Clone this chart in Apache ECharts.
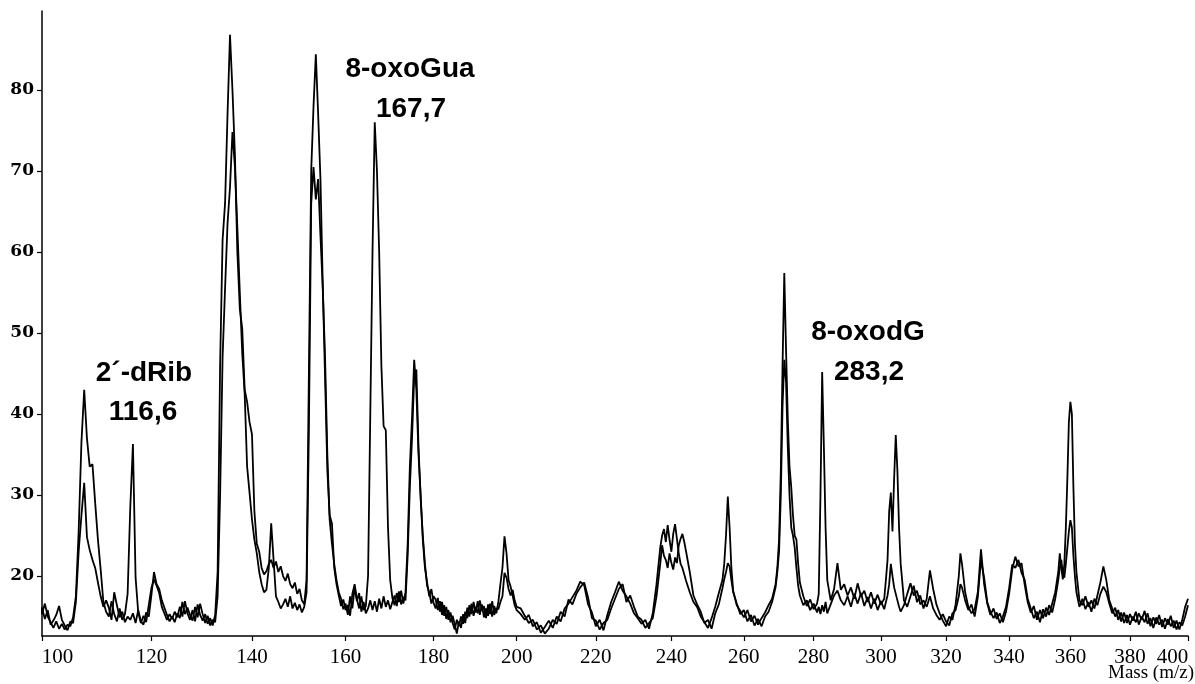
<!DOCTYPE html>
<html>
<head>
<meta charset="utf-8">
<title>Mass spectrum</title>
<script src="https://cdn.jsdelivr.net/npm/echarts@6/dist/echarts.min.js"></script>
<style>
  html, body { margin: 0; padding: 0; background: #fff; }
  #chart { width: 1195px; height: 684px; }
</style>
</head>
<body>
<div id="chart"></div>
<script>
// m/z sampling points, shared by both scans
const mass = [
  99.5, 100, 100.5, 101, 101.5, 102, 102.5, 103, 103.5, 104,
  104.5, 105, 105.5, 106, 106.5, 107, 107.5, 108, 108.5, 109,
  109.5, 110, 110.5, 111, 111.5, 112, 112.5, 113, 113.5, 114,
  114.5, 115, 115.5, 116, 116.5, 117, 117.5, 118, 118.5, 119,
  119.5, 120, 120.5, 121, 121.5, 122, 122.5, 123, 123.5, 124,
  124.5, 125, 125.5, 126, 126.5, 127, 127.5, 128, 128.5, 129,
  129.5, 130, 130.5, 131, 131.5, 132, 132.5, 133, 133.5, 134,
  134.5, 135, 135.5, 136, 136.5, 137, 137.5, 138, 138.5, 139,
  139.5, 140, 140.5, 141, 141.5, 142, 142.5, 143, 143.5, 144,
  144.5, 145, 145.5, 146, 146.5, 147, 147.5, 148, 148.5, 149,
  149.5, 150, 150.5, 151, 151.5, 152, 152.5, 153, 153.5, 154,
  154.5, 155, 155.5, 156, 156.5, 157, 157.5, 158, 158.5, 159,
  159.5, 160, 160.5, 161, 161.5, 162, 162.5, 163, 163.5, 164,
  164.5, 165, 165.5, 166, 166.5, 167, 167.5, 168, 168.5, 169,
  169.5, 170, 170.5, 171, 171.5, 172, 172.5, 173, 173.5, 174,
  174.5, 175, 175.5, 176, 176.5, 177, 177.5, 178, 178.5, 179,
  179.5, 180, 180.5, 181, 181.5, 182, 182.5, 183, 183.5, 184,
  184.5, 185, 185.5, 186, 186.5, 187, 187.5, 188, 188.5, 189,
  189.5, 190, 190.5, 191, 191.5, 192, 192.5, 193, 193.5, 194,
  194.5, 195, 195.5, 196, 196.5, 197, 197.5, 198, 198.5, 199,
  199.5, 200,
  201, 202, 203, 204, 205, 206, 207, 208, 209, 210,
  211, 212, 213, 214, 215, 216, 217, 218, 219, 220,
  221, 222, 223, 224, 225, 226, 227, 228, 229, 230,
  231, 232, 233, 234, 235, 236, 237, 237.5, 238, 238.5,
  239, 239.5, 240, 240.5, 241, 241.5, 242, 242.5, 243, 243.5,
  244, 245, 246, 247, 248, 249, 250, 251, 252, 253,
  254, 254.5, 255, 255.5, 256, 256.5, 257, 258, 259, 260,
  261, 262, 263, 264, 265, 266, 267, 268, 269, 269.5,
  270, 270.5, 271, 271.5, 272, 272.5, 273, 273.5, 274, 274.5,
  275, 275.5, 276, 277, 278, 279, 280, 281, 281.5, 282,
  282.5, 283, 283.5, 284, 285, 286, 287, 288, 289, 290,
  291, 292, 293, 294, 295, 296, 297, 298, 299, 300,
  301, 301.5, 302, 302.5, 303, 303.5, 304, 304.5, 305, 305.5,
  306, 307, 308, 309, 310, 311, 312, 313, 314, 315,
  316, 317, 318, 319, 320, 321, 322, 323, 324, 324.5,
  325, 326, 327, 328, 329, 330, 331, 332, 333, 334,
  335, 336, 337, 338, 339, 340, 341, 342, 343, 344,
  345, 346, 347, 348, 349, 350, 351, 352, 353, 354,
  355, 356, 356.5, 357, 357.5, 358, 358.5, 359, 359.5, 360,
  360.5, 361, 361.5, 362, 363, 364, 365, 366, 367, 368,
  369, 370, 371, 372, 373, 374, 375, 376, 377, 378,
  379, 380, 381, 382, 383, 384, 385, 386, 387, 388,
  389, 390, 391, 392, 393, 394, 395, 396, 397, 398,
  399, 400
];

// first scan (the one with the 116, 167 and 283 peaks)
const scanA = [
  16.2, 15.3, 16.6, 15.0, 14.3, 13.6, 14.4, 13.5, 14.1, 13.4,
  14.0, 13.8, 14.9, 17.5, 25.5, 36.5, 43.0, 37.0, 33.5, 33.8,
  29.0, 24.5, 20.8, 16.8, 15.6, 15.0, 16.9, 15.3, 14.4, 16.0,
  14.6, 15.3, 17.8, 28.5, 36.3, 19.8, 15.5, 14.2, 15.1, 14.3,
  16.4, 18.5, 19.6, 18.8, 17.9, 16.2, 15.4, 14.6, 15.3, 14.7,
  15.6, 14.9, 16.2, 15.0, 16.9, 15.4, 14.6, 15.8, 14.4, 16.5,
  15.2, 14.5, 15.3, 14.1, 14.8, 13.9, 15.2, 20.5, 46.0, 61.5,
  66.0, 77.0, 86.8, 80.0, 72.0, 60.0, 53.0, 50.5, 43.0, 41.5,
  39.0, 37.5, 28.0, 24.0, 23.0, 21.0, 20.2, 20.6, 21.5, 22.0,
  21.0, 21.8, 20.5, 21.2, 20.0, 19.4, 20.3, 19.0, 18.5, 19.2,
  17.8, 18.4, 17.0, 16.5, 19.5, 45.0, 70.0, 78.0, 84.4, 77.0,
  69.0, 56.0, 44.5, 33.0, 27.5, 26.5, 21.0, 19.0, 17.6, 16.3,
  17.1, 15.8, 16.4, 15.1, 17.8, 19.0, 17.2, 16.0, 17.5, 15.8,
  16.3, 20.0, 40.0, 60.0, 76.0, 70.0, 60.0, 46.0, 38.5, 38.0,
  26.0, 19.5, 17.3, 16.4, 17.9, 16.8, 18.2, 16.6, 18.0, 24.0,
  33.5, 39.5, 46.7, 43.0, 35.0, 30.0, 24.5, 21.0, 19.2, 17.5,
  18.4, 16.7, 16.0, 17.3, 15.6, 16.8, 15.1, 16.2, 14.6, 15.5,
  14.2, 13.4, 14.6, 13.8, 15.0, 14.1, 15.6, 14.8, 16.4, 15.3,
  16.8, 15.5, 16.9, 15.2, 16.5, 14.9, 16.0, 15.1, 16.6, 15.0,
  16.3, 15.4, 16.8, 19.0, 21.0, 24.9, 22.8, 19.5, 18.7, 17.6,
  16.4, 15.8,
  15.3, 14.6, 15.2, 13.8, 14.3, 13.0, 13.7, 14.5, 13.6, 15.0,
  14.4, 16.0, 16.6, 17.4, 18.2, 19.3, 18.9, 16.5, 15.5, 13.8,
  14.6, 13.3, 15.2, 16.8, 18.0, 19.3, 18.2, 17.5, 16.6, 15.4,
  14.8, 14.1, 14.6, 13.5, 15.4, 19.0, 23.5, 25.0, 25.8, 24.2,
  26.3, 24.5, 23.0, 25.2, 26.4, 24.6, 22.8, 21.5, 21.0, 20.2,
  19.4, 18.0, 16.8, 16.2, 15.0, 14.3, 13.6, 14.8, 16.2, 17.9,
  19.5, 21.5, 25.0, 29.8, 26.0, 21.0, 18.2, 16.4, 15.7, 14.9,
  15.8, 14.4, 15.1, 14.0, 14.8, 15.5, 16.4, 17.2, 19.0, 21.0,
  24.5, 33.0, 46.0, 57.4, 48.0, 39.5, 33.5, 31.0, 27.5, 25.0,
  24.5, 21.5, 19.2, 17.5, 16.3, 17.1, 15.9, 16.6, 17.8, 30.0,
  45.2, 36.0, 26.0, 19.5, 17.0, 18.4, 21.6, 18.3, 19.0, 17.6,
  18.6, 17.2, 19.1, 17.5, 18.2, 16.8, 18.0, 16.6, 17.7, 16.5,
  17.2, 19.5, 22.0, 28.0, 30.3, 25.5, 32.0, 37.4, 33.0, 26.0,
  21.5, 17.0, 16.2, 17.5, 18.8, 16.8, 17.6, 16.0, 17.2, 20.7,
  18.4, 16.5, 15.4, 14.5, 13.8, 15.0, 14.6, 16.5, 20.0, 22.8,
  21.5, 18.0, 16.2, 15.4, 15.9, 18.0, 23.3, 19.0, 16.6, 15.2,
  16.0, 14.7, 15.4, 14.3, 15.6, 17.8, 20.8, 22.4, 21.2, 21.6,
  19.0, 16.8, 15.5, 16.3, 14.6, 15.8, 14.8, 16.1, 15.2, 16.6,
  18.0, 20.5, 22.8, 21.0, 19.6, 21.5, 26.0, 32.0, 39.0, 41.5,
  40.0, 31.0, 24.0, 20.5, 17.0, 16.4, 17.5, 16.2, 17.0, 16.0,
  17.6, 19.2, 21.2, 19.5, 17.0, 16.0, 15.0, 15.8, 14.4, 15.5,
  14.2, 15.3, 14.5, 15.6, 14.0, 15.0, 14.3, 15.4, 13.8, 14.9,
  14.1, 15.2, 13.7, 14.8, 14.0, 15.1, 13.6, 14.5, 13.4, 14.6,
  16.2, 17.2
];

// second scan
const scanB = [
  15.0, 16.1, 14.7, 15.8, 14.0, 14.5, 15.2, 16.3, 14.6, 13.9,
  13.3, 14.4, 14.2, 16.8, 23.0, 27.5, 31.5, 24.8, 23.2, 22.0,
  21.0, 19.2, 17.5, 16.2, 17.0, 16.1, 14.6, 18.0, 16.4, 14.9,
  15.6, 14.3, 15.0, 14.6, 15.4, 14.2, 15.8, 14.4, 14.0, 15.5,
  15.0, 17.6, 20.5, 19.0, 18.4, 17.0, 16.1, 15.2, 14.4, 15.0,
  14.3, 15.4, 14.8, 16.8, 15.3, 16.1, 15.2, 14.5, 16.2, 14.9,
  16.6, 15.3, 14.2, 15.1, 13.9, 14.6, 14.3, 17.5, 30.0, 47.0,
  55.5, 63.5, 68.0, 74.8, 70.5, 63.0, 55.0, 47.5, 42.5, 33.5,
  30.3, 27.0, 24.5, 22.8, 20.5, 19.0, 18.0, 18.3, 21.0, 26.5,
  22.0, 17.5, 16.8, 16.0, 16.5, 17.2, 16.2, 17.5, 16.0, 16.7,
  15.8, 16.5, 15.5, 16.2, 18.0, 38.0, 66.0, 70.5, 66.5, 69.0,
  62.0, 55.5, 47.0, 35.0, 27.0, 24.0, 21.5, 19.5, 18.0, 17.2,
  15.9, 16.6, 15.2, 17.5, 16.0, 18.6, 16.9, 17.9, 15.6, 16.8,
  15.4, 16.0, 17.0, 15.8, 16.9, 15.6, 17.2, 16.0, 17.5, 16.2,
  17.0, 15.9, 16.8, 17.6, 16.3, 18.1, 16.5, 17.4, 17.0, 22.5,
  31.0, 37.0, 44.5, 45.5, 36.0, 29.5, 25.0, 21.5, 18.8, 18.0,
  16.6, 17.5, 17.1, 15.8, 16.9, 15.2, 16.4, 14.7, 15.8, 14.3,
  15.1, 14.0, 12.9, 14.4, 13.6, 15.3, 14.2, 16.1, 15.0, 16.6,
  15.1, 16.2, 15.4, 17.0, 15.7, 16.3, 14.8, 16.5, 15.3, 16.9,
  15.2, 16.0, 15.9, 16.8, 17.5, 20.4, 19.8, 18.4, 17.6, 18.3,
  17.0, 16.2,
  16.0, 15.1, 14.2, 14.6, 13.4, 13.9, 12.9, 13.5, 14.6, 14.1,
  15.6, 15.0, 17.1, 16.5, 17.8, 18.6, 19.2, 17.4, 14.8, 14.5,
  13.4, 14.2, 14.6, 16.0, 17.2, 18.4, 19.0, 16.8, 17.6, 16.2,
  15.0, 14.6, 13.6, 14.2, 14.8, 17.5, 21.5, 23.8, 22.5, 22.0,
  21.0, 22.8, 21.6, 20.8, 22.3, 21.6, 23.8, 24.6, 25.2, 24.2,
  23.0, 20.5, 17.6, 16.5, 15.6, 14.2, 14.6, 13.5, 15.4, 16.5,
  18.5, 19.6, 20.5, 21.6, 21.2, 19.5, 18.0, 16.6, 15.3, 15.8,
  14.4, 15.2, 13.9, 14.7, 13.8, 15.0, 15.6, 16.8, 18.6, 20.5,
  23.0, 30.0, 41.0, 46.7, 44.0, 36.0, 30.0, 26.0, 25.0, 23.5,
  21.0, 18.8, 17.6, 16.4, 17.0, 15.8, 16.6, 15.5, 16.2, 15.3,
  16.4, 15.6, 16.8, 15.4, 16.5, 17.6, 18.2, 17.0, 16.4, 17.5,
  16.2, 17.8, 16.6, 17.9, 16.3, 17.4, 16.0, 17.2, 15.8, 16.9,
  15.9, 16.8, 17.6, 19.0, 21.5, 20.0, 18.6, 17.8, 17.0, 16.2,
  15.6, 16.4, 17.8, 19.1, 17.6, 18.2, 16.5, 17.0, 16.2, 17.5,
  16.0, 15.2, 14.6, 15.3, 14.4, 13.9, 15.4, 15.8, 17.5, 19.0,
  18.6, 17.0, 15.8, 16.5, 15.0, 17.4, 22.0, 19.8, 16.8, 15.6,
  14.8, 15.5, 14.2, 15.0, 16.2, 18.5, 21.4, 21.0, 22.0, 20.4,
  19.6, 17.2, 16.0, 14.8, 15.6, 14.3, 15.9, 15.0, 16.4, 15.5,
  17.2, 19.5, 21.0, 22.0, 20.2, 19.8, 21.5, 23.5, 25.5, 26.9,
  26.0, 22.5, 20.0, 18.0, 16.2, 17.2, 15.9, 16.8, 15.6, 17.2,
  16.4, 17.8, 18.7, 18.0, 16.6, 15.4, 16.1, 14.6, 15.5, 14.2,
  15.2, 14.0, 15.0, 14.3, 15.4, 14.6, 15.7, 14.1, 14.8, 13.6,
  14.9, 14.0, 14.6, 13.5, 14.7, 13.8, 14.5, 13.4, 14.3, 13.9,
  15.0, 16.4
];

const massTicks = [100, 120, 140, 160, 180, 200, 220, 240, 260, 280, 300, 320, 340, 360, 380, 400];
const intensityTicks = [20, 30, 40, 50, 60, 70, 80];
const peakNames = ['2\u00B4-dRib', '8-oxoGua', '8-oxodG'];
const peakMasses = ['116,6', '167,7', '283,2'];

if (scanA.length !== mass.length || scanB.length !== mass.length) {
  console.error('length mismatch', mass.length, scanA.length, scanB.length);
}

// the time-of-flight axis is linear in sqrt(m/z)
const toAxis = (m) => Math.sqrt(m);
const fromAxis = (v) => Math.round(v * v);

const serifLabel = { fontFamily: 'Liberation Serif', fontSize: 21, color: '#000' };

const chart = echarts.init(document.getElementById('chart'), null, { renderer: 'canvas' });

const labelFont = 'bold 28px "Liberation Sans", Arial, sans-serif';
const annotation = (text, x, y) => ({
  type: 'text',
  x: x,
  y: y,
  style: { text: text, font: labelFont, fill: '#000', align: 'center', verticalAlign: 'middle' }
});

const option = {
  backgroundColor: '#fff',
  animation: false,
  grid: { left: 42, right: 7, top: 11, bottom: 48, containLabel: false },
  xAxis: {
    type: 'value',
    min: toAxis(massTicks[0]),
    max: toAxis(massTicks[massTicks.length - 1]),
    axisLine: { show: true, onZero: false, lineStyle: { color: '#000', width: 1.5 } },
    axisTick: {
      show: true,
      customValues: massTicks.map(toAxis),
      length: 5,
      lineStyle: { color: '#000', width: 1.2 }
    },
    axisLabel: Object.assign({
      customValues: massTicks.map(toAxis),
      margin: 11,
      formatter: (v) => {
        const m = fromAxis(v);
        if (m === massTicks[0]) return '{first|' + m + '}';
        if (m === massTicks[massTicks.length - 1]) return '{last|' + m + '}';
        return String(m);
      },
      rich: {
        first: Object.assign({ padding: [0, 0, 0, 31] }, serifLabel),
        last: Object.assign({ padding: [0, 31, 0, 0] }, serifLabel)
      }
    }, serifLabel),
    splitLine: { show: false }
  },
  yAxis: {
    type: 'value',
    min: 12.6,
    max: 89.75,
    axisLine: { show: true, lineStyle: { color: '#000', width: 1.5 } },
    axisTick: {
      show: true,
      customValues: intensityTicks,
      length: 5,
      lineStyle: { color: '#000', width: 1.2 }
    },
    axisLabel: {
      customValues: intensityTicks,
      margin: 8,
      fontFamily: 'DejaVu Serif',
      fontWeight: 'bold',
      fontSize: 17,
      color: '#000'
    },
    splitLine: { show: false }
  },
  series: [scanA, scanB].map((scan) => ({
    type: 'line',
    data: mass.map((m, i) => [toAxis(m), scan[i]]),
    showSymbol: false,
    symbol: 'none',
    clip: true,
    lineStyle: { color: '#000', width: 1.8 }
  })),
  graphic: [
    annotation(peakNames[0], 144, 373),
    annotation(peakMasses[0], 143, 412),
    annotation(peakNames[1], 410, 69),
    annotation(peakMasses[1], 411, 109),
    annotation(peakNames[2], 868, 332),
    annotation(peakMasses[2], 869, 372),
    {
      type: 'text',
      x: 1194,
      y: 673,
      style: {
        text: 'Mass (m/z)',
        font: '19px "Liberation Serif", serif',
        fill: '#000',
        align: 'right',
        verticalAlign: 'middle'
      }
    }
  ]
};

chart.setOption(option);
</script>
</body>
</html>
